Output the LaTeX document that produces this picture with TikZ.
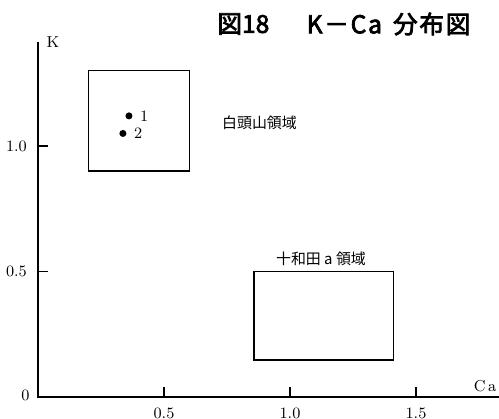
\documentclass[tikz,border=0pt]{standalone}
\usepackage{fontspec}
\usepackage{tikz}
\usetikzlibrary{positioning}
\newfontfamily\jpfont{Noto Sans CJK JP}
\newfontfamily\jptitle[FakeBold=3]{Noto Sans CJK JP}
\tikzstyle{sample}=[circle,fill=black,inner sep=0,minimum size=4pt]
\tikzstyle{region}=[line width=0.7pt]
\tikzstyle{region name}=[font=\jpfont\fontsize{8.5}{10}\selectfont]
\tikzstyle{title}=[font=\jptitle\fontsize{14}{16}\selectfont]

\begin{document}
\begin{tikzpicture}[x=5.04cm,y=5.02cm]

      \tikzstyle{every node}=[font=\small]
      \useasboundingbox (-0.1508,-0.0876) rectangle (1.8294,1.5817);

      % axes
      \coordinate (origin) at (0,0);
      \coordinate (x_end) at (1.829,0);
      \coordinate (y_end) at (0,1.414);
      \draw[line width=1pt] (x_end) -- (origin) -- (y_end);

      \node[right=0.05cm] (label_k) at (y_end) {K};
      \node (label_ca) at (1.774,0.044) {C\,a};

      \foreach \x in {0.5,1.0,1.5} {
        \draw[line width=0.6pt] (\x,0) -- ++(0,0.04);
        \node (tick_x_\x) at (\x,-0.064) {\x};
      }
      \foreach \y in {0.5,1.0} {
        \draw[line width=0.6pt] (0,\y) -- ++(0.04,0);
        \node[left=0.1cm] (tick_y_\y) at (0,\y) {\y};
      }
      \node (tick_y_0) at (-0.05,0.005) {0};

      % regions
      \draw[region] (0.2,0.9) rectangle (0.6,1.3);
      \draw[region] (0.857,0.147) rectangle (1.41,0.5);
      \node[region name] (name_paektu) at (0.879,1.092) {白頭山領域};
      \node[region name] (name_towada) at (1.123,0.55) {十和田 a 領域};

      % samples
      \node[sample, label={[label distance=0.02cm]0:1}] (sample_1) at (0.361,1.12) {};
      \node[sample, label={[label distance=0.02cm]0:2}] (sample_2) at (0.337,1.05) {};

      % title
      \node[title] (title_num) at (0.815,1.486) {図18};
      \node[title] (title_text) at (1.391,1.486) {K\kern1pt－\kern1pt C\kern1pt a\hspace{0.45em}分\kern1pt 布\kern1pt 図};
    \end{tikzpicture}
\end{document}
